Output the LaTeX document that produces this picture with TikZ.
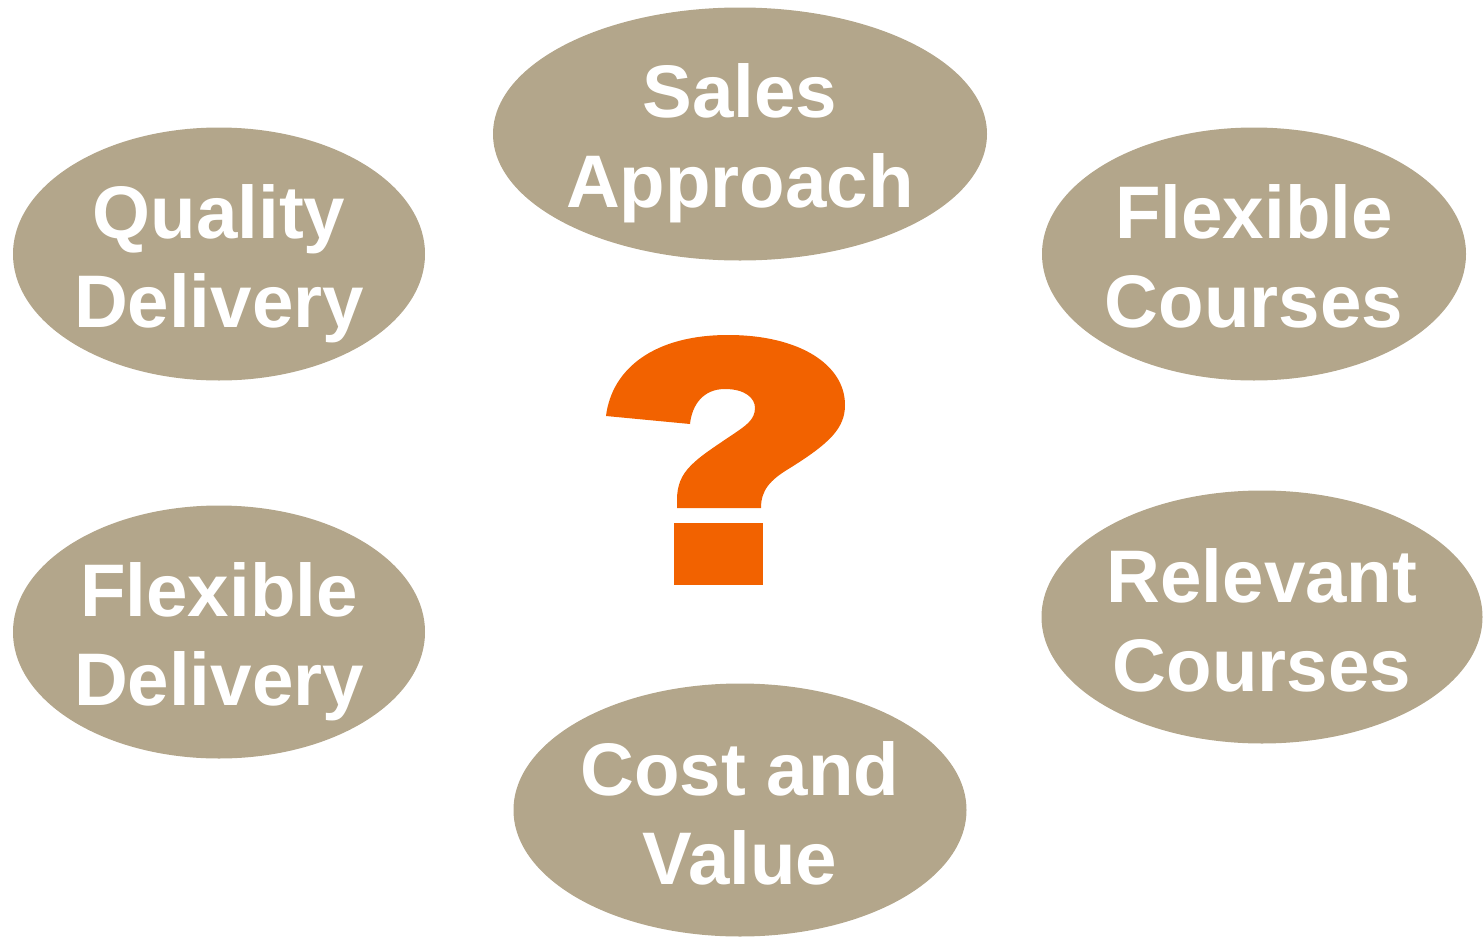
\documentclass[tikz,border=0pt]{standalone}
\usepackage{fontspec}
\setmainfont{Liberation Sans}
\usetikzlibrary{shapes.geometric,calc}
\definecolor{taupe}{RGB}{179,166,139}
\definecolor{qorange}{RGB}{242,98,0}
\begin{document}
\begin{tikzpicture}[x=1pt,y=-1pt,
  blob/.style={ellipse,fill=taupe,draw=none,inner sep=0pt},
  lbl/.style={anchor=base,text=white,inner sep=0pt,font=\fontsize{74.5}{89}\selectfont\bfseries}]
\useasboundingbox (0,0) rectangle (1484,937);
% ellipses
\node[blob,minimum width=494pt,minimum height=253pt] (sa) at (740,134) {};
\node[blob,minimum width=412pt,minimum height=253pt] (qd) at (219,254) {};
\node[blob,minimum width=424pt,minimum height=253pt] (fc) at (1254,254) {};
\node[blob,minimum width=412pt,minimum height=253pt] (fd) at (219,632) {};
\node[blob,minimum width=441pt,minimum height=253pt] (rc) at (1262,617) {};
\node[blob,minimum width=453pt,minimum height=253pt] (cv) at (740,810) {};
% labels
\node[lbl] (sa1) at ($(sa.center)+(0,-17)$) {Sales};
\node[lbl] (sa2) at ($(sa.center)+(0,73)$) {Approach};
\node[lbl] (qd1) at ($(qd.center)+(0,-16)$) {Quality};
\node[lbl] (qd2) at ($(qd.center)+(0,73)$) {Delivery};
\node[lbl] (fc1) at ($(fc.center)+(0,-16)$) {Flexible};
\node[lbl] (fc2) at ($(fc.center)+(0,73)$) {Courses};
\node[lbl] (fd1) at ($(fd.center)+(0,-16)$) {Flexible};
\node[lbl] (fd2) at ($(fd.center)+(0,73)$) {Delivery};
\node[lbl] (rc1) at ($(rc.center)+(0,-15)$) {Relevant};
\node[lbl] (rc2) at ($(rc.center)+(0,74)$) {Courses};
\node[lbl] (cv1) at ($(cv.center)+(0,-15)$) {Cost and};
\node[lbl] (cv2) at ($(cv.center)+(0,74)$) {Value};
% question mark
\fill[qorange] (606,416) -- (690,424)
  .. controls (692,405) and (703,389) .. (725,389)
  .. controls (745,389) and (755,398) .. (755,408)
  .. controls (755,420) and (745,426) .. (735,433)
  .. controls (695,460) and (677,470) .. (677,500)
  -- (677,508) -- (761,508)
  .. controls (761,490) and (770,480) .. (790,468)
  .. controls (830,443) and (845,428) .. (845,405)
  .. controls (845,365) and (800,335) .. (728,335)
  .. controls (655,335) and (612,368) .. (606,416) -- cycle;
\fill[qorange] (674,523) rectangle (763,585);
\end{tikzpicture}
\end{document}
